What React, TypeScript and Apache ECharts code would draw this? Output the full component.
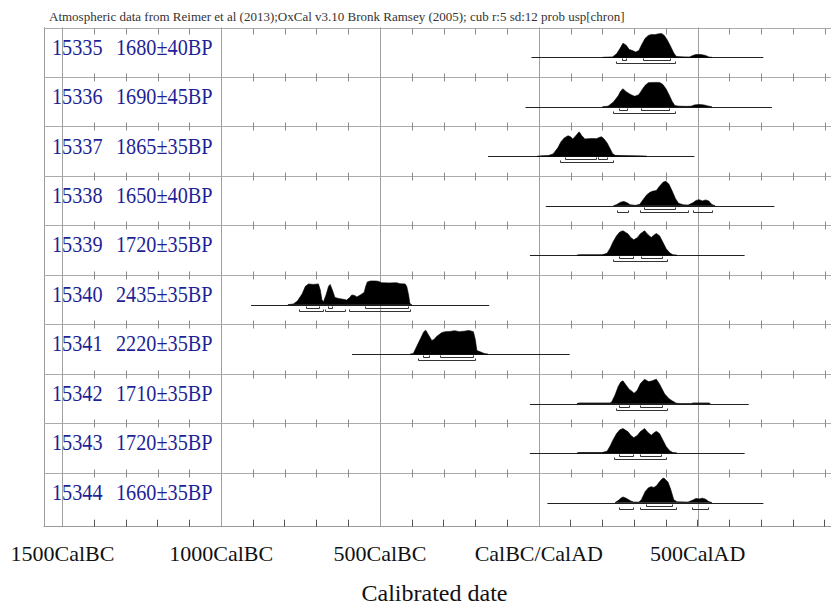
import React, { useEffect, useRef } from 'react';
import * as echarts from 'echarts';

const titleText = 'Atmospheric data from Reimer et al (2013);OxCal v3.10 Bronk Ramsey (2005); cub r:5 sd:12 prob usp[chron]';
const labIds = ['15335', '15336', '15337', '15338', '15339', '15340', '15341', '15342', '15343', '15344'];
const ages = ['1680±40BP', '1690±45BP', '1865±35BP', '1650±40BP', '1720±35BP', '2435±35BP', '2220±35BP', '1710±35BP', '1720±35BP', '1660±35BP'];

const majorYears = [-1500, -1000, -500, 0, 500];
const tickLabelText = ['1500CalBC', '1000CalBC', '500CalBC', 'CalBC/CalAD', '500CalAD'];
const minorYears = [-1500, -1400, -1300, -1200, -1100, -1000, -900, -800, -700, -600, -500, -400, -300, -200, -100, 0, 100, 200, 300, 400, 500, 600, 700, 800, 900];

// full plotted range for each date (start, end)
const rangeLines = [
  [-23, 707], [-42, 734], [-160, 490], [22, 742], [-28, 648],
  [-906, -156], [-588, 97], [-28, 661], [-28, 648], [27, 707],
];

// probability distributions [year, relative probability]
const dist1 = [[200, 0], [232, 0.02], [245, 0.15], [255, 0.35], [265, 0.58], [275, 0.5], [285, 0.32], [295, 0.28], [305, 0.22], [315, 0.28], [325, 0.55], [335, 0.78], [345, 0.9], [355, 0.94], [365, 0.93], [375, 0.96], [386, 0.98], [395, 0.9], [405, 0.7], [415, 0.45], [425, 0.18], [433, 0.04], [445, 0.03], [460, 0.02], [475, 0.02], [485, 0.08], [495, 0.12], [510, 0.12], [525, 0.08], [535, 0.02], [545, 0]];
const dist2 = [[200, 0], [218, 0.03], [235, 0.2], [250, 0.45], [258, 0.65], [265, 0.74], [275, 0.62], [290, 0.5], [302, 0.43], [315, 0.5], [325, 0.7], [335, 0.88], [345, 0.99], [360, 1.0], [380, 1.0], [390, 0.92], [400, 0.75], [410, 0.5], [420, 0.22], [428, 0.06], [440, 0.03], [465, 0.02], [480, 0.03], [490, 0.08], [505, 0.1], [520, 0.08], [535, 0.03], [545, 0]];
const dist3 = [[-5, 0], [10, 0.02], [30, 0.03], [45, 0.1], [60, 0.35], [70, 0.6], [80, 0.75], [92, 0.84], [100, 0.8], [107, 0.71], [115, 0.82], [127, 1.0], [135, 0.85], [145, 0.71], [155, 0.72], [170, 0.73], [181, 0.72], [190, 0.77], [197, 0.8], [205, 0.72], [215, 0.55], [225, 0.3], [232, 0.12], [240, 0.04], [260, 0.03], [300, 0.02], [333, 0.01], [340, 0]];
const dist4 = [[235, 0], [245, 0.05], [258, 0.15], [268, 0.18], [278, 0.12], [288, 0.04], [305, 0.02], [318, 0.06], [328, 0.25], [340, 0.45], [350, 0.55], [360, 0.6], [370, 0.62], [380, 0.8], [392, 0.97], [400, 1.0], [410, 0.88], [420, 0.6], [430, 0.3], [440, 0.1], [455, 0.04], [470, 0.03], [485, 0.12], [495, 0.22], [505, 0.25], [515, 0.2], [525, 0.24], [535, 0.2], [545, 0.05], [555, 0]];
const dist5 = [[120, 0], [127, 0.02], [197, 0.02], [202, 0.03], [215, 0.08], [225, 0.3], [234, 0.55], [245, 0.8], [255, 0.95], [265, 1.0], [275, 0.92], [281, 0.87], [290, 0.72], [299, 0.63], [310, 0.72], [320, 0.88], [333, 1.0], [343, 0.85], [354, 0.73], [362, 0.82], [370, 0.89], [380, 0.8], [390, 0.55], [401, 0.27], [412, 0.1], [422, 0.02], [435, 0]];
const dist6 = [[-790, 0], [-773, 0.03], [-760, 0.15], [-745, 0.45], [-735, 0.75], [-725, 0.85], [-710, 0.83], [-694, 0.85], [-688, 0.6], [-683, 0.2], [-678, 0.12], [-670, 0.4], [-662, 0.75], [-657, 0.83], [-650, 0.6], [-642, 0.3], [-630, 0.25], [-615, 0.22], [-605, 0.19], [-595, 0.3], [-589, 0.4], [-580, 0.38], [-573, 0.32], [-562, 0.4], [-550, 0.5], [-545, 0.75], [-540, 0.93], [-530, 0.97], [-515, 0.97], [-506, 0.96], [-495, 0.9], [-470, 0.89], [-448, 0.9], [-437, 0.86], [-421, 0.85], [-416, 0.75], [-410, 0.4], [-406, 0.05], [-400, 0]];
const dist7 = [[-405, 0], [-395, 0.03], [-385, 0.3], [-372, 0.65], [-362, 0.92], [-356, 0.98], [-348, 0.8], [-337, 0.56], [-330, 0.6], [-322, 0.72], [-306, 0.88], [-295, 0.92], [-280, 0.93], [-265, 0.96], [-250, 0.92], [-235, 0.94], [-220, 0.97], [-206, 0.92], [-200, 0.6], [-195, 0.15], [-185, 0.1], [-170, 0.02], [-160, 0]];
const dist8 = [[120, 0], [127, 0.03], [223, 0.03], [229, 0.06], [240, 0.35], [250, 0.7], [258, 0.88], [265, 0.93], [275, 0.75], [285, 0.58], [291, 0.53], [300, 0.42], [310, 0.55], [320, 0.82], [333, 1.0], [345, 0.9], [355, 0.92], [370, 1.0], [380, 0.8], [396, 0.4], [410, 0.2], [422, 0.1], [433, 0.02], [445, 0], [480, 0], [485, 0.03], [536, 0.03], [540, 0]];
const dist9 = [[120, 0], [127, 0.02], [197, 0.02], [202, 0.03], [215, 0.08], [225, 0.3], [234, 0.55], [245, 0.8], [255, 0.95], [265, 1.0], [275, 0.92], [281, 0.87], [290, 0.72], [299, 0.63], [310, 0.72], [320, 0.88], [333, 1.0], [343, 0.85], [354, 0.73], [362, 0.82], [370, 0.89], [380, 0.8], [390, 0.55], [401, 0.27], [412, 0.1], [422, 0.02], [435, 0]];
const dist10 = [[240, 0], [250, 0.08], [258, 0.18], [265, 0.23], [275, 0.18], [290, 0.06], [299, 0.02], [315, 0.02], [323, 0.12], [335, 0.45], [345, 0.6], [354, 0.65], [362, 0.62], [370, 0.68], [380, 0.85], [388, 0.97], [394, 1.0], [402, 0.9], [407, 0.83], [415, 0.55], [425, 0.12], [435, 0.03], [470, 0.02], [485, 0.1], [495, 0.17], [505, 0.15], [515, 0.18], [525, 0.14], [535, 0.04], [545, 0]];
const dists = [dist1, dist2, dist3, dist4, dist5, dist6, dist7, dist8, dist9, dist10];

// 68.2% and 95.4% ranges
const ranges68 = [
  [[262, 273], [328, 414]],
  [[253, 278], [323, 409]],
  [[82, 180], [185, 215]],
  [[330, 428]],
  [[252, 296], [321, 387]],
  [[-734, -691], [-663, -652], [-547, -411]],
  [[-364, -345], [-311, -206]],
  [[253, 283], [318, 388]],
  [[253, 297], [318, 386]],
  [[336, 419]],
];
const ranges95 = [
  [[244, 428]],
  [[234, 428]],
  [[66, 234]],
  [[245, 280], [318, 469], [487, 544]],
  [[233, 403]],
  [[-755, -680], [-673, -610], [-597, -406]],
  [[-380, -201]],
  [[244, 405]],
  [[236, 399]],
  [[253, 295], [318, 433], [481, 534]],
];

const X_MIN = -1558;
const X_MAX = 920;
const Y_MAX = 10.093;
const BASE = 0.605; // baseline of distribution inside a row
const PEAK = 0.495; // height of max probability (in row units)
const FONT = 'Liberation Serif';

const px = (v: number) => Math.round(v) + 0.5;

export default function App() {
  const ref = useRef<HTMLDivElement>(null);
  useEffect(() => {
    if (!ref.current) return;
    const chart = echarts.init(ref.current, undefined, { renderer: 'svg' });
    const rowIdx = labIds.map((_, i) => [i]);

    const option: any = {
      animation: false,
      backgroundColor: '#ffffff',
      title: {
        text: titleText,
        left: 44,
        top: 5,
        textStyle: { fontFamily: FONT, fontSize: 13, fontWeight: 'normal', color: '#333' },
      },
      grid: { left: 44, right: 0, top: 27.5, bottom: 80.3, containLabel: false, outerBoundsMode: 'none' },
      xAxis: {
        type: 'value',
        min: X_MIN,
        max: X_MAX,
        axisLine: { onZero: false, lineStyle: { color: '#9a9a9a', width: 1 } },
        axisTick: { show: true, inside: true, length: 7, customValues: minorYears, lineStyle: { color: '#555', width: 1 } },
        axisLabel: {
          customValues: majorYears,
          formatter: (v: number) => {
            const k = majorYears.indexOf(Math.round(v));
            return k >= 0 ? tickLabelText[k] : '';
          },
          fontFamily: FONT,
          fontSize: 22,
          color: '#111',
          margin: 16,
        },
        splitLine: { show: false },
        name: 'Calibrated date',
        nameLocation: 'middle',
        nameGap: 54,
        nameTextStyle: { fontFamily: FONT, fontSize: 24, color: '#111', padding: [0, 6, 0, 0] },
      },
      yAxis: {
        type: 'value',
        min: 0,
        max: Y_MAX,
        inverse: true,
        axisLine: { show: true, onZero: false, lineStyle: { color: '#9a9a9a', width: 1 } },
        axisTick: { show: false },
        axisLabel: { show: false },
        splitLine: { show: false },
      },
      series: [
        {
          // row separators with 100-year ticks
          type: 'custom',
          silent: true,
          clip: false,
          z: 1,
          data: rowIdx,
          renderItem: (params: any, api: any) => {
            const i = api.value(0);
            const [x0, y] = api.coord([X_MIN, i]);
            const [x1] = api.coord([X_MAX, i]);
            const yy = px(y);
            const children: any[] = [
              { type: 'line', shape: { x1: x0, y1: yy, x2: x1, y2: yy }, style: { stroke: '#ababab', lineWidth: 1 } },
            ];
            minorYears.forEach((yr) => {
              const [tx] = api.coord([yr, i]);
              const xx = px(tx);
              children.push({
                type: 'line',
                shape: { x1: xx, y1: i === 0 ? yy : yy - 4, x2: xx, y2: i === 0 ? yy + 6 : yy + 4 },
                style: { stroke: '#8c8c8c', lineWidth: 1 },
              });
            });
            return { type: 'group', children };
          },
        },
        {
          // vertical grid lines at every 500 years
          type: 'custom',
          silent: true,
          clip: false,
          z: 1,
          data: majorYears.map((v) => [v]),
          renderItem: (params: any, api: any) => {
            const v = api.value(0);
            const [x, y0] = api.coord([v, 0]);
            const [, y1] = api.coord([v, Y_MAX]);
            const xx = px(x);
            return { type: 'line', shape: { x1: xx, y1: y0, x2: xx, y2: y1 }, style: { stroke: '#a0a0a0', lineWidth: 1 } };
          },
        },
        {
          // distributions, ranges, brackets
          type: 'custom',
          silent: true,
          clip: false,
          z: 3,
          data: rowIdx,
          renderItem: (params: any, api: any) => {
            const i = api.value(0);
            const b = i + BASE;
            const children: any[] = [];
            const r = rangeLines[i];
            const [rx0, ry] = api.coord([r[0], b]);
            const [rx1] = api.coord([r[1], b]);
            const yb = px(ry);
            children.push({ type: 'line', shape: { x1: rx0, y1: yb, x2: rx1, y2: yb }, style: { stroke: '#222', lineWidth: 1 } });
            const d = dists[i];
            const pts: number[][] = [];
            pts.push(api.coord([d[0][0], b]));
            d.forEach((p) => pts.push(api.coord([p[0], b - p[1] * PEAK])));
            pts.push(api.coord([d[d.length - 1][0], b]));
            children.push({ type: 'polygon', shape: { points: pts }, style: { fill: '#000', stroke: '#000', lineWidth: 0.6 } });
            const bracket = (rg: number[], dy: number) => {
              const [xa] = api.coord([rg[0], b]);
              const [xb] = api.coord([rg[1], b]);
              const y = yb + dy;
              return {
                type: 'polyline',
                shape: { points: [[px(xa), y - 2], [px(xa), y], [px(xb), y], [px(xb), y - 2]] },
                style: { stroke: '#333', lineWidth: 1, fill: null },
              };
            };
            ranges68[i].forEach((rg) => children.push(bracket(rg, 3)));
            ranges95[i].forEach((rg) => children.push(bracket(rg, 6)));
            return { type: 'group', children };
          },
        },
        {
          // row labels
          type: 'custom',
          silent: true,
          clip: false,
          z: 4,
          data: rowIdx,
          renderItem: (params: any, api: any) => {
            const i = api.value(0);
            const [x, y] = api.coord([X_MIN, i + 0.398]);
            const font = '23px ' + FONT;
            return {
              type: 'group',
              children: [
                { type: 'text', x: x + 8, y, scaleX: 0.88, style: { text: labIds[i], fill: '#1f1f96', font, textAlign: 'left', textVerticalAlign: 'middle' } },
                { type: 'text', x: x + 72, y, scaleX: 0.88, style: { text: ages[i], fill: '#1f1f96', font, textAlign: 'left', textVerticalAlign: 'middle' } },
              ],
            };
          },
        },
      ],
    };
    chart.setOption(option);
    return () => chart.dispose();
  }, []);
  return <div ref={ref} style={{ position: 'fixed', left: 0, top: 0, width: 831, height: 607, background: '#fff' }} />;
}
